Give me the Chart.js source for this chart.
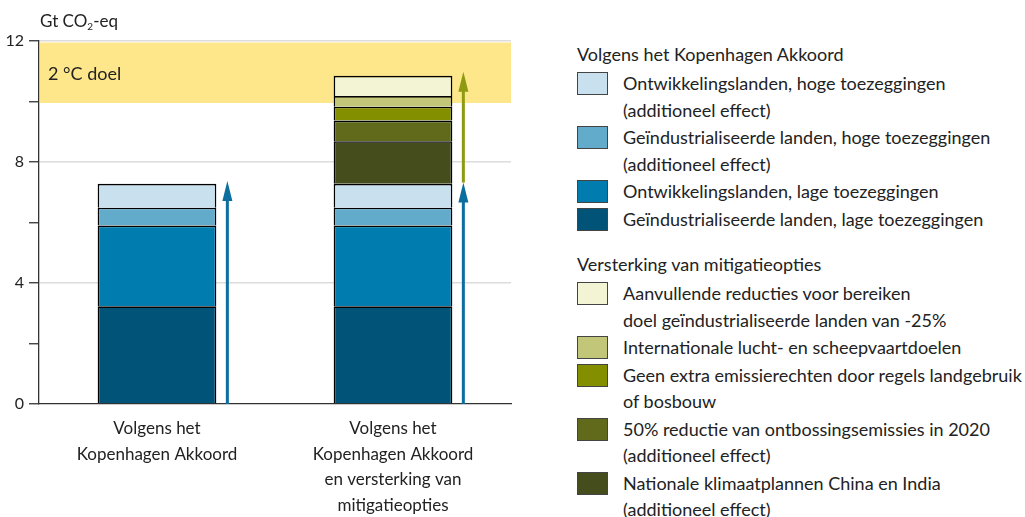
<!DOCTYPE html>
<html>
<head>
<meta charset="utf-8">
<script src="https://cdn.jsdelivr.net/npm/chart.js@4/dist/chart.umd.min.js"></script>
<style>
  html, body { margin: 0; padding: 0; background: #fff; }
  body { width: 1025px; height: 517px; position: relative; overflow: hidden; font-family: Lato, "Open Sans", sans-serif; color: #222; }
  #wrap { position: absolute; left: 0; top: 0; width: 560px; height: 517px; }
  #ytitle { position: absolute; left: 40px; top: 11px; font-size: 17px; line-height: 20px; }
  #ytitle sub { font-size: 10px; vertical-align: -3px; }
  #legend { position: absolute; left: 577px; top: 41px; width: 448px; font-size: 18px; }
  .lg-head { line-height: 26px; height: 26px; margin-bottom: 3px; }
  .lg-item { display: flex; align-items: flex-start; margin-bottom: 1px; }
  .lg-sw { width: 29px; height: 21px; border: 1px solid #444; margin-top: 2px; margin-right: 15px; flex: none; }
  .lg-txt { line-height: 26.5px; white-space: nowrap; }
  .lg-gap { height: 18px; }
</style>
</head>
<body>
<div id="wrap"><canvas id="c"></canvas></div>
<div id="ytitle">Gt CO<sub>2</sub>-eq</div>
<div id="legend"></div>
<script>
// ---- data ----
const categories = [
  ['Volgens het', 'Kopenhagen Akkoord'],
  ['Volgens het', 'Kopenhagen Akkoord', 'en versterking van', 'mitigatieopties']
];
const industLow   = [3.23, 3.23];
const developLow  = [2.67, 2.67];
const industHigh  = [0.59, 0.59];
const developHigh = [0.79, 0.79];
const chinaIndia  = [null, 1.41];
const deforest    = [null, 0.68];
const landUse     = [null, 0.46];
const aviation    = [null, 0.35];
const extraRed    = [null, 0.67];

const blueArrowTop = [7.37, 7.32];
const oliveArrowFrom = [null, 7.32];
const oliveArrowTop  = [null, 10.98];

const targetBand = [9.95, 11.95];
const targetLabel = '2 °C doel';
const yTicksLabelled = [0, 4, 8, 12];
const gridValues = [4, 8, 12];

const groupTitles = ['Volgens het Kopenhagen Akkoord', 'Versterking van mitigatieopties'];

const seriesLabels = [
  ['Geïndustrialiseerde landen, lage toezeggingen'],
  ['Ontwikkelingslanden, lage toezeggingen'],
  ['Geïndustrialiseerde landen, hoge toezeggingen', '(additioneel effect)'],
  ['Ontwikkelingslanden, hoge toezeggingen', '(additioneel effect)'],
  ['Nationale klimaatplannen China en India', '(additioneel effect)'],
  ['50% reductie van ontbossingsemissies in 2020', '(additioneel effect)'],
  ['Geen extra emissierechten door regels landgebruik', 'of bosbouw'],
  ['Internationale lucht- en scheepvaartdoelen'],
  ['Aanvullende reducties voor bereiken', 'doel geïndustrialiseerde landen van -25%']
];
const seriesData = [industLow, developLow, industHigh, developHigh, chinaIndia, deforest, landUse, aviation, extraRed];
const seriesGroup = [0, 0, 0, 0, 1, 1, 1, 1, 1];
const seriesColors = ['#015477', '#007DAE', '#62ABCB', '#C9E1EF', '#464D1C', '#606A1A', '#848F00', '#C1C678', '#F2F4D4'];

const FONT = 'Lato, "Open Sans", sans-serif';

// ---- legend (HTML) ----
const legendEl = document.getElementById('legend');
[0, 1].forEach(g => {
  if (g === 1) { const gap = document.createElement('div'); gap.className = 'lg-gap'; legendEl.appendChild(gap); }
  const h = document.createElement('div'); h.className = 'lg-head'; h.textContent = groupTitles[g]; legendEl.appendChild(h);
  for (let i = seriesLabels.length - 1; i >= 0; i--) {
    if (seriesGroup[i] !== g) continue;
    const it = document.createElement('div'); it.className = 'lg-item';
    const sw = document.createElement('div'); sw.className = 'lg-sw'; sw.style.background = seriesColors[i];
    const tx = document.createElement('div'); tx.className = 'lg-txt';
    tx.innerHTML = seriesLabels[i].map(s => s.replace(/&/g, '&amp;').replace(/</g, '&lt;')).join('<br>');
    it.appendChild(sw); it.appendChild(tx); legendEl.appendChild(it);
  }
});

// ---- plugins ----
const bandPlugin = {
  id: 'band',
  beforeDatasetsDraw(chart) {
    const { ctx, chartArea, scales: { y } } = chart;
    const top = y.getPixelForValue(targetBand[1]);
    const bot = y.getPixelForValue(targetBand[0]);
    ctx.save();
    ctx.fillStyle = '#FEE68A';
    ctx.fillRect(chartArea.left + 1, top, chartArea.right - chartArea.left - 1, bot - top);
    ctx.fillStyle = '#222';
    ctx.font = '18px ' + FONT;
    ctx.textBaseline = 'middle';
    ctx.fillText(targetLabel, chartArea.left + 9, (top + bot) / 2 + 1);
    ctx.restore();
  }
};

function drawArrow(ctx, x, y0, y1, color) {
  const headH = 20, headW = 10;
  ctx.save();
  ctx.strokeStyle = color; ctx.fillStyle = color; ctx.lineWidth = 3;
  ctx.beginPath(); ctx.moveTo(x, y0); ctx.lineTo(x, y1 + headH - 2); ctx.stroke();
  ctx.beginPath();
  ctx.moveTo(x, y1); ctx.lineTo(x - headW / 2, y1 + headH); ctx.lineTo(x + headW / 2, y1 + headH); ctx.closePath(); ctx.fill();
  ctx.restore();
}

const arrowPlugin = {
  id: 'arrows',
  afterDatasetsDraw(chart) {
    const { ctx, scales: { y } } = chart;
    const meta = chart.getDatasetMeta(0);
    meta.data.forEach((el, i) => {
      const x = el.x + el.width / 2 + 11;
      drawArrow(ctx, x, y.getPixelForValue(0), y.getPixelForValue(blueArrowTop[i]), '#0B6E9F');
      if (oliveArrowTop[i] != null) {
        drawArrow(ctx, x, y.getPixelForValue(oliveArrowFrom[i]), y.getPixelForValue(oliveArrowTop[i]), '#8E9A12');
      }
    });
  }
};

// ---- chart ----
new Chart(document.getElementById('c'), {
  type: 'bar',
  data: {
    labels: categories,
    datasets: seriesData.map((d, i) => ({
      label: seriesLabels[i].join(' '),
      data: d,
      backgroundColor: seriesColors[i],
      borderColor: '#000',
      borderWidth: 1.6,
      barPercentage: 0.503,
      categoryPercentage: 1
    }))
  },
  options: {
    responsive: true,
    maintainAspectRatio: false,
    animation: false,
    layout: { padding: { top: 41, right: 49, left: 0, bottom: 0 } },
    plugins: { legend: { display: false }, tooltip: { enabled: false } },
    scales: {
      x: {
        stacked: true,
        grid: { display: false, drawTicks: false },
        border: { display: true, color: '#333', width: 1.3 },
        ticks: { color: '#222', font: { family: FONT, size: 17, lineHeight: 1.5 }, padding: 12, maxRotation: 0, autoSkip: false },
        afterFit(s) { s.height = 113; }
      },
      y: {
        stacked: true,
        min: 0, max: 12,
        ticks: {
          stepSize: 2,
          color: '#222',
          padding: 5,
          font: { family: FONT, size: 16 },
          callback: v => yTicksLabelled.includes(v) ? String(v) : ''
        },
        grid: {
          color: c => gridValues.includes(c.tick && c.tick.value) ? '#DCDCDC' : 'rgba(0,0,0,0)',
          lineWidth: 1.5,
          tickLength: 10,
          tickColor: '#333',
          tickWidth: 1.3,
          drawTicks: true
        },
        border: { display: true, color: '#333', width: 1.3 },
        afterFit(s) { s.width = 39; }
      }
    }
  },
  plugins: [bandPlugin, arrowPlugin]
});
</script>
</body>
</html>
